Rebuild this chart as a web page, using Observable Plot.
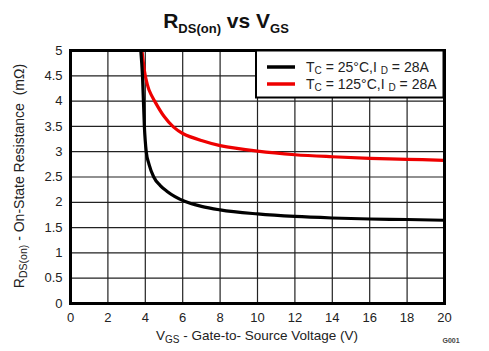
<!DOCTYPE html>
<html>
<head>
<meta charset="utf-8">
<script src="https://cdn.jsdelivr.net/npm/d3@7"></script>
<script src="https://cdn.jsdelivr.net/npm/@observablehq/plot@0.6"></script>
<style>
  html, body { margin: 0; padding: 0; background: #fff; }
  #chart { width: 489px; height: 351px; }
</style>
</head>
<body>
<div id="chart"></div>
<script>
// ---- data ----
const xTicks = [0, 2, 4, 6, 8, 10, 12, 14, 16, 18, 20];
const yTicks = [0, 0.5, 1, 1.5, 2, 2.5, 3, 3.5, 4, 4.5, 5];

const vgs25 = [3.76, 3.85, 3.95, 4.05, 4.2, 4.45, 4.8, 5.15, 6.1, 7.0, 8.0, 10, 12, 14, 16, 18, 20];
const rds25 = [5.0, 4.5, 3.5, 3.0, 2.75, 2.5, 2.33, 2.22, 2.02, 1.92, 1.85, 1.77, 1.72, 1.69, 1.67, 1.66, 1.645];

const vgs125 = [3.82, 3.9, 4.0, 4.2, 4.5, 5.0, 5.5, 6.0, 7.0, 8.0, 10, 12, 14, 16, 18, 20];
const rds125 = [5.0, 4.75, 4.5, 4.22, 4.0, 3.7, 3.49, 3.36, 3.22, 3.12, 3.01, 2.94, 2.90, 2.87, 2.85, 2.83];

const series25 = vgs25.map((v, i) => ({x: v, y: rds25[i]}));
const series125 = vgs125.map((v, i) => ({x: v, y: rds125[i]}));

const font = "'Liberation Sans', Arial, sans-serif";

const plot = Plot.plot({
  width: 489,
  height: 351,
  marginLeft: 70,
  marginRight: 45,
  marginTop: 50,
  marginBottom: 48,
  style: {fontFamily: font, fontSize: "13px", color: "#222", background: "#fff"},
  x: {domain: [0, 20]},
  y: {domain: [0, 5]},
  marks: [
    Plot.gridX(xTicks, {stroke: "#222", strokeOpacity: 1, strokeWidth: 1.2}),
    Plot.gridY(yTicks, {stroke: "#222", strokeOpacity: 1, strokeWidth: 1.2}),
    Plot.axisX(xTicks, {tickSize: 0, tickPadding: 9, label: null, tickFormat: d => String(d), fontSize: 13}),
    Plot.axisY(yTicks, {tickSize: 0, tickPadding: 8, label: null, tickFormat: d => String(d), fontSize: 13}),
    Plot.line(series125, {x: "x", y: "y", stroke: "#ee0000", strokeWidth: 3.2, curve: "catmull-rom", clip: true}),
    Plot.line(series25, {x: "x", y: "y", stroke: "#000", strokeWidth: 3.2, curve: "monotone-x", clip: true}),
    Plot.frame({stroke: "#000", strokeWidth: 3})
  ]
});

document.getElementById("chart").appendChild(plot);

// ---- annotations (title, axis labels with subscripts, legend) ----
const svg = d3.select(plot);
const ns = svg.append("g").attr("font-family", font).attr("fill", "#222");

// Title
const title = ns.append("text").attr("x", 226).attr("y", 28).attr("text-anchor", "middle")
  .attr("font-weight", "bold").attr("font-size", 21).attr("fill", "#111");
title.append("tspan").text("R");
title.append("tspan").attr("font-size", 13).attr("dy", 5).text("DS(on)");
title.append("tspan").attr("dy", -5).text(" vs V");
title.append("tspan").attr("font-size", 13).attr("dy", 5).text("GS");

// X label
const xl = ns.append("text").attr("x", 257).attr("y", 340).attr("text-anchor", "middle").attr("font-size", 13.5);
xl.append("tspan").text("V");
xl.append("tspan").attr("font-size", 10).attr("dy", 3).text("GS");
xl.append("tspan").attr("dy", -3).text(" - Gate-to- Source Voltage (V)");

// Y label
const yl = ns.append("text").attr("transform", "translate(24,176) rotate(-90)").attr("text-anchor", "middle").attr("font-size", 14);
yl.append("tspan").text("R");
yl.append("tspan").attr("font-size", 10.5).attr("dy", 3).text("DS(on)");
yl.append("tspan").attr("dy", -3).text(" - On-State Resistance  (m\u03A9)");

// G001
ns.append("text").attr("x", 451).attr("y", 343).attr("text-anchor", "middle")
  .attr("font-size", 7).attr("font-weight", "bold").attr("fill", "#444").text("G001");

// Legend
const lg = ns.append("g");
lg.append("rect").attr("x", 256).attr("y", 50.5).attr("width", 187.5).attr("height", 47)
  .attr("fill", "#fff").attr("stroke", "#000").attr("stroke-width", 2);
const entries = [
  {color: "#000", temp: "25°C", y: 67},
  {color: "#ee0000", temp: "125°C", y: 84}
];
entries.forEach(e => {
  lg.append("line").attr("x1", 267).attr("x2", 295).attr("y1", e.y).attr("y2", e.y)
    .attr("stroke", e.color).attr("stroke-width", 3.5);
  const t = lg.append("text").attr("x", 306).attr("y", e.y + 5).attr("text-anchor", "start")
    .attr("font-size", 14).attr("fill", "#222");
  t.append("tspan").text("T");
  t.append("tspan").attr("font-size", 10).attr("dy", 2).text("C");
  t.append("tspan").attr("dy", -2).text(" = " + e.temp + ",I ");
  t.append("tspan").attr("font-size", 10).attr("dy", 2).text("D");
  t.append("tspan").attr("dy", -2).text(" = 28A");
});
</script>
</body>
</html>
